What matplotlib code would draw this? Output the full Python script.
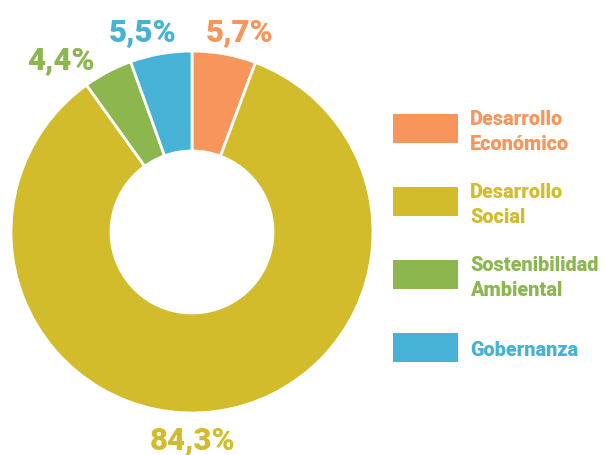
import matplotlib
matplotlib.use("Agg")
import matplotlib.pyplot as plt
from matplotlib.patches import Rectangle

# data
categories = ["Desarrollo\nEconómico", "Desarrollo\nSocial", "Sostenibilidad\nAmbiental", "Gobernanza"]
values = [5.7, 84.3, 4.4, 5.5]
pct_labels = ["5,7%", "84,3%", "4,4%", "5,5%"]
colors = ["#F7955B", "#D2BC2B", "#8CB74E", "#46B2D5"]

W, H = 605, 455
fig = plt.figure(figsize=(W / 100, H / 100), dpi=100)
ax = fig.add_axes([0, 0, 1, 1])
ax.set_xlim(0, W)
ax.set_ylim(0, H)
ax.set_aspect("equal")
ax.axis("off")

cx, cy = 192, H - 232
r_out, r_in = 181, 81

ax.pie(values, colors=colors, startangle=90, counterclock=False,
       center=(cx, cy), radius=r_out,
       wedgeprops=dict(width=r_out - r_in, edgecolor="white", linewidth=2))
ax.set_xlim(0, W)
ax.set_ylim(0, H)

font = "Roboto"
# percentage labels (pixel positions from top-left)
label_pos = [(240, 32), (193, 440), (61, 60), (143, 32)]
for (x, y), txt, c in zip(label_pos, pct_labels, colors):
    ax.text(x, H - y, txt, color=c, fontsize=22.5, fontweight="black",
            family=font, ha="center", va="center")

# legend
for i, (cat, c) in enumerate(zip(categories, colors)):
    top = 114 + i * 73
    ax.add_patch(Rectangle((393, H - top - 29), 65, 29, color=c, lw=0))
    ax.text(470, H - top - 18, cat, color=c, fontsize=14.3, fontweight="black",
            family=font, ha="left", va="center", linespacing=1.4)

fig.savefig("out.png", dpi=100)
